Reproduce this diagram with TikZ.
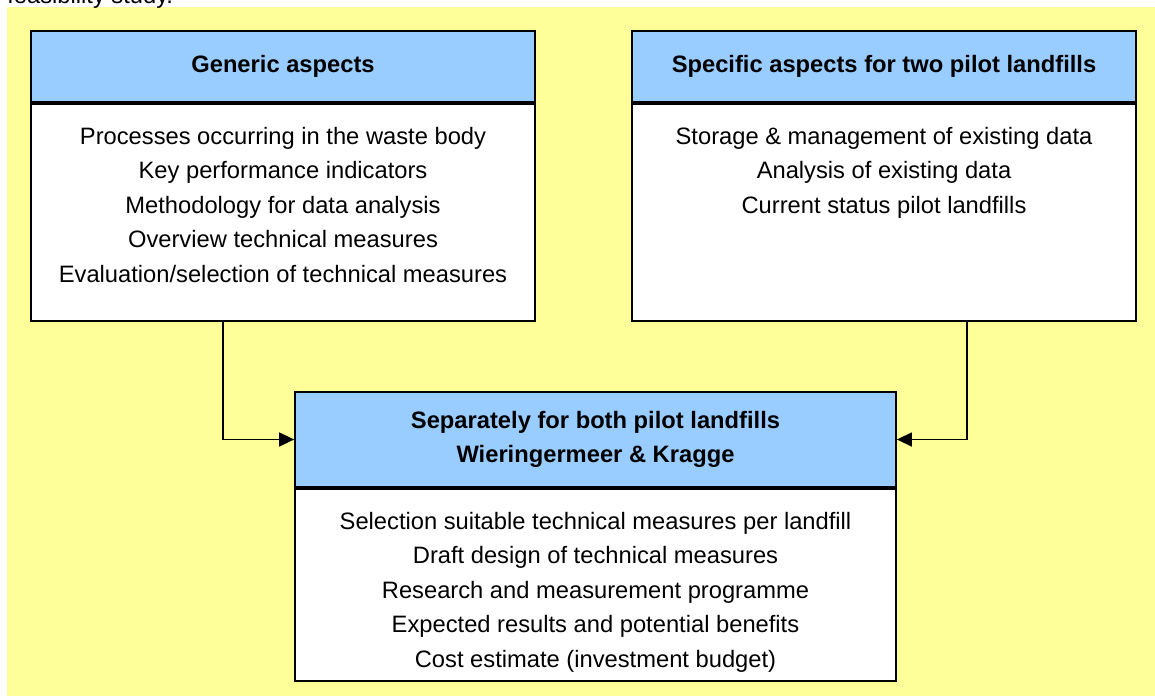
\documentclass[tikz,border=0pt]{standalone}
\usepackage{fontspec}
\setmainfont{Liberation Sans}
\usetikzlibrary{arrows.meta,positioning}
\definecolor{paleyellow}{RGB}{255,255,153}
\definecolor{headblue}{RGB}{153,204,255}

\begin{document}
\begin{tikzpicture}[
    headbox/.style={draw=black, line width=1pt, fill=headblue, align=center,
      font=\bfseries\fontsize{13.5}{19.4}\selectfont, inner sep=0pt},
    bodybox/.style={draw=black, line width=1pt, fill=white, inner sep=0pt, anchor=north},
    listtext/.style={align=center, font=\fontsize{13.5}{19.6}\selectfont, inner sep=0pt, anchor=north},
    feed/.style={line width=0.8pt, -{Triangle[length=0.3cm,width=0.28cm]}}
  ]
  \useasboundingbox (0,0) rectangle (23.1,-13.92);
  % Background
  \fill[paleyellow] (0.14,-0.14) rectangle (23.1,-13.92);
  \node[anchor=base west, inner sep=0pt, font=\fontsize{13.5}{16}\selectfont] (caption) at (0.14,-0.08) {feasibility study.};

  % Generic aspects
  \node[headbox, minimum width=10.08cm, minimum height=1.42cm] (genhead) at (5.66,-1.33) {Generic aspects};
  \node[bodybox, minimum width=10.08cm, minimum height=4.34cm] (genbody) at (genhead.south) {};
  \node[listtext] (genlist) at ([yshift=-0.48cm]genbody.north) {Processes occurring in the waste body\\
    Key performance indicators\\
    Methodology for data analysis\\
    Overview technical measures\\
    Evaluation/selection of technical measures};

  % Specific aspects
  \node[headbox, minimum width=10.08cm, minimum height=1.42cm] (spechead) at (17.68,-1.33) {Specific aspects for two pilot landfills};
  \node[bodybox, minimum width=10.08cm, minimum height=4.34cm] (specbody) at (spechead.south) {};
  \node[listtext] (speclist) at ([yshift=-0.48cm]specbody.north) {Storage \& management of existing data\\
    Analysis of existing data\\
    Current status pilot landfills};

  % Both pilot landfills
  \node[headbox, minimum width=12.02cm, minimum height=1.90cm] (sephead) at (11.91,-8.79) {Separately for both pilot landfills\\Wieringermeer \& Kragge};
  \node[bodybox, minimum width=12.02cm, minimum height=3.84cm] (sepbody) at (sephead.south) {};
  \node[listtext] (seplist) at ([yshift=-0.48cm]sepbody.north) {Selection suitable technical measures per landfill\\
    Draft design of technical measures\\
    Research and measurement programme\\
    Expected results and potential benefits\\
    Cost estimate (investment budget)};

  % Connectors
  \draw[feed] ([xshift=-1.2cm]genbody.south) |- (sephead.west);
  \draw[feed] ([xshift=1.66cm]specbody.south) |- (sephead.east);
\end{tikzpicture}
\end{document}
